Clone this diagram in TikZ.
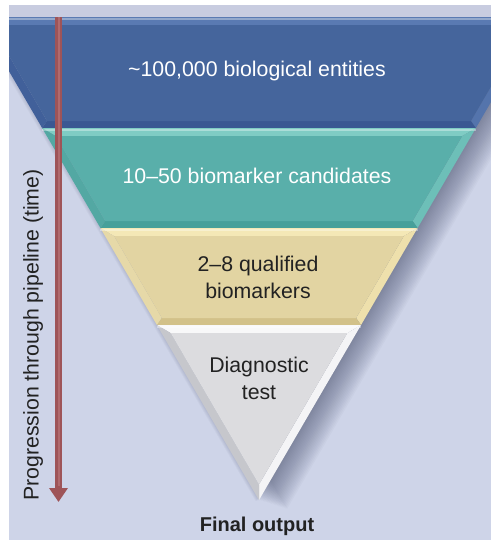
\documentclass[tikz,border=0pt]{standalone}
\usepackage{fontspec}
\setmainfont{Liberation Sans}
\usetikzlibrary{arrows.meta}

\definecolor{bgcol}{HTML}{CED4E8}
\definecolor{stripcol}{HTML}{C8CCE0}
\definecolor{shadowcol}{HTML}{3A4262}
% blue band
\definecolor{blueIn}{HTML}{45659C}
\definecolor{blueTop}{HTML}{5A7AB2}
\definecolor{blueRight}{HTML}{5474AC}
\definecolor{blueLeft}{HTML}{41609A}
\definecolor{blueBot}{HTML}{3A5892}
% teal band
\definecolor{tealIn}{HTML}{59AFAA}
\definecolor{tealTop}{HTML}{7FCCC4}
\definecolor{tealRight}{HTML}{6DBFB8}
\definecolor{tealLeft}{HTML}{53A8A3}
\definecolor{tealBot}{HTML}{47A09A}
% yellow band
\definecolor{yelIn}{HTML}{E2D4A2}
\definecolor{yelTop}{HTML}{F4E8B6}
\definecolor{yelRight}{HTML}{EEE0AC}
\definecolor{yelLeft}{HTML}{E6D9A8}
\definecolor{yelBot}{HTML}{D2C189}
% grey tip
\definecolor{tipIn}{HTML}{DCDCDF}
\definecolor{tipTop}{HTML}{F8F8F9}
\definecolor{tipRight}{HTML}{F4F4F6}
\definecolor{tipLeft}{HTML}{C6C7CC}
\definecolor{tipBot}{HTML}{D0D0D4}
% arrow
\definecolor{arrowcol}{HTML}{9E5458}
\definecolor{arrowlight}{HTML}{B06A6E}
\definecolor{darktext}{HTML}{222222}

% one bevelled slice of the funnel: ytop, ybot, inner, top, right, left, bottom colours
\newcommand{\funnelband}[7]{%
  \pgfmathsetmacro{\bandTw}{(500-#1)*0.583}%
  \pgfmathsetmacro{\bandBw}{(500-#2)*0.583}%
  \pgfmathsetmacro{\bandIT}{#1+8}%
  \pgfmathsetmacro{\bandIB}{min(#2-7,484.6)}%
  \pgfmathsetmacro{\bandITw}{(500-\bandIT)*0.583-9}%
  \pgfmathsetmacro{\bandIBw}{max((500-\bandIB)*0.583-9,0)}%
  \coordinate (oTL) at (259-\bandTw,#1);
  \coordinate (oTR) at (259+\bandTw,#1);
  \coordinate (oBL) at (259-\bandBw,#2);
  \coordinate (oBR) at (259+\bandBw,#2);
  \coordinate (iTL) at (259-\bandITw,\bandIT);
  \coordinate (iTR) at (259+\bandITw,\bandIT);
  \coordinate (iBL) at (259-\bandIBw,\bandIB);
  \coordinate (iBR) at (259+\bandIBw,\bandIB);
  \fill[#4] (oTL) -- (oTR) -- (iTR) -- (iTL) -- cycle;
  \fill[#5] (oTR) -- (oBR) -- (iBR) -- (iTR) -- cycle;
  \fill[#6] (oTL) -- (oBL) -- (iBL) -- (iTL) -- cycle;
  \fill[#7] (oBL) -- (oBR) -- (iBR) -- (iBL) -- cycle;
  \fill[#3] (iTL) -- (iTR) -- (iBR) -- (iBL) -- cycle;
  % bright rim along the top edge
  \draw[white, opacity=0.35, line width=1.5pt] ([yshift=-2pt]oTL) -- ([yshift=-2pt]oTR);
}

\tikzset{
  label/.style={font=\fontsize{21.3}{27}\selectfont, align=center, inner sep=0pt},
  lighttext/.style={label, text=white},
  darklabel/.style={label, text=darktext},
}

\begin{document}
\begin{tikzpicture}[x=1pt,y=-1pt]
\useasboundingbox (0,0) rectangle (491,542);

% backdrop
\fill[bgcol] (9,5) rectangle (491,540);
\fill[stripcol] (9,5) rectangle (491,17);

\begin{scope}
  \clip (9,5) rectangle (491,540);
  % soft shadow of the funnel, thrown to the right
  \foreach \k in {1,...,20} {
    \fill[shadowcol, opacity=0.03, shift={(\k*1.4,\k*0.45)}]
      (-22.6,17) -- (540.6,17) -- (259,500) -- cycle;
  }
  % faint contact shadow on the left edge
  \foreach \k in {1,...,4} {
    \fill[shadowcol, opacity=0.04, shift={(-\k*0.8,\k*0.3)}]
      (-22.6,17) -- (540.6,17) -- (259,500) -- cycle;
  }
  % funnel slices, widest first
  \funnelband{17}{128}{blueIn}{blueTop}{blueRight}{blueLeft}{blueBot}
  \funnelband{128}{228}{tealIn}{tealTop}{tealRight}{tealLeft}{tealBot}
  \funnelband{228}{325}{yelIn}{yelTop}{yelRight}{yelLeft}{yelBot}
  \funnelband{325}{500}{tipIn}{tipTop}{tipRight}{tipLeft}{tipBot}
\end{scope}

% time arrow
\coordinate (arrTop) at (58.5,17);
\coordinate (arrTip) at (58.5,502);
\draw[line width=6.5pt, arrowcol, -{Triangle[width=18pt,length=14pt]}] (arrTop) -- (arrTip);
\draw[line width=2pt, arrowlight, shorten >=16pt] (arrTop) -- (arrTip);

% labels
\node[lighttext] (entities) at (257,71) {\textasciitilde100,000 biological entities};
\node[lighttext] (candidates) at (257,176) {10–50 biomarker candidates};
\node[darklabel] (qualified) at (258,277) {2–8 qualified\\biomarkers};
\node[darklabel] (diagnostic) at (259,378) {Diagnostic\\test};
\node[darklabel, font=\fontsize{20}{24}\selectfont\bfseries] (output) at (257,526) {Final output};
\node[darklabel, rotate=90] (progress) at (33,335) {Progression through pipeline (time)};
\end{tikzpicture}
\end{document}
